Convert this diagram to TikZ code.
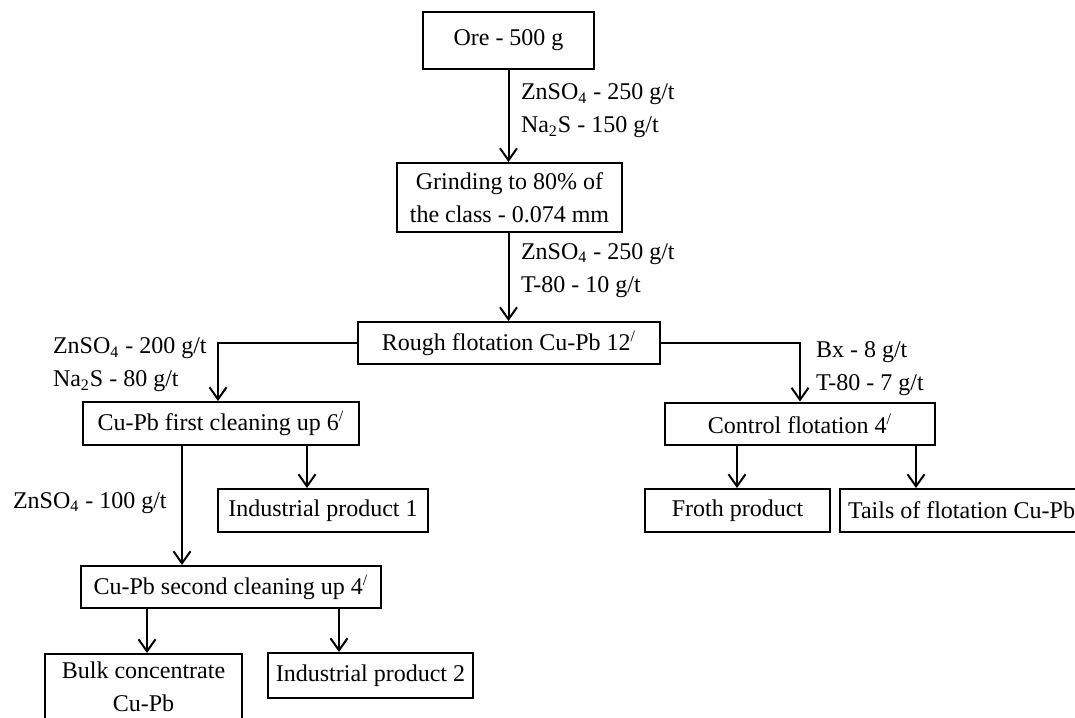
\documentclass[tikz,border=0pt]{standalone}
\usepackage{fontspec}
\setmainfont{Liberation Serif}
\usetikzlibrary{arrows.meta,positioning}
\tikzset{
  basic/.style   = {draw, line width=1pt, rectangle, inner sep=2pt,
                    font=\fontsize{12}{16.5}\selectfont},
  stage/.style   = {basic, align=center},
  product/.style = {basic, align=center},
  dose/.style    = {inner sep=0pt, align=left, anchor=west,
                    font=\fontsize{12}{16.5}\selectfont}
}

\begin{document}
\begin{tikzpicture}[x=0.5pt, y=-0.5pt,
  >={Straight Barb[length=6pt,width=8.5pt]},
  line width=1pt]

\useasboundingbox (0,0) rectangle (1075,717);
\clip (0,0) rectangle (1075,717);

% main line of the scheme
\node[stage, minimum width=85.5pt, minimum height=28.5pt] (ore) at (508.5,40.5) {Ore - 500 g};
\node[stage, minimum width=112.5pt, minimum height=34.5pt] (grind) at (509.5,197.5)
  {Grinding to 80\% of\\the class - 0.074 mm};
\node[stage, minimum width=151pt, minimum height=21pt] (rough) at (509,343)
  {Rough flotation Cu-Pb 12\textsuperscript{/}};

% cleaning and control stages
\node[stage, minimum width=138pt, minimum height=21.5pt] (clean1) at (221,423.5)
  {Cu-Pb first cleaning up 6\textsuperscript{/}};
\node[stage, minimum width=135pt, minimum height=21pt] (control) at (800,423.5)
  {Control flotation 4\textsuperscript{/}};
\node[stage, minimum width=150pt, minimum height=21pt] (clean2) at (231,587)
  {Cu-Pb second cleaning up 4\textsuperscript{/}};

% products
\begin{scope}[every node/.style={product}]
\node[minimum width=105pt, minimum height=21.5pt] (ind1) at (323,510.5) {Industrial product 1};
\node[minimum width=92.5pt, minimum height=21.5pt] (froth) at (737.5,510.5) {Froth product};
\node[minimum height=21.5pt, anchor=west, inner sep=4pt] (tails) at (839,510.5)
  {Tails of flotation Cu-Pb};
\node[minimum width=98.5pt, minimum height=32.5pt] (bulk) at (143.5,686.5)
  {Bulk concentrate\\Cu-Pb};
\node[minimum width=102.5pt, minimum height=22.5pt] (ind2) at (370.5,675.5) {Industrial product 2};
\end{scope}

% reagents
\node[dose] (r1) at (520,111) {ZnSO\textsubscript{4} - 250 g/t\\Na\textsubscript{2}S - 150 g/t};
\node[dose] (r2) at (520,270.5) {ZnSO\textsubscript{4} - 250 g/t\\T-80 - 10 g/t};
\node[dose] (r3) at (52,365) {ZnSO\textsubscript{4} - 200 g/t\\Na\textsubscript{2}S - 80 g/t};
\node[dose] (r4) at (815,369) {Bx - 8 g/t\\T-80 - 7 g/t};
\node[dose] (r5) at (12,503) {ZnSO\textsubscript{4} - 100 g/t};

% flows
\draw[->] (ore.south) -- (ore.south |- grind.north);
\draw[->] (ore.south |- grind.south) -- (ore.south |- rough.north);
\draw[->] (rough.west) -| ([xshift=-1.5pt]clean1.north);
\draw[->] (rough.east) -| (control.north);

\foreach \src/\dst/\dx in {clean1/clean2/-19.5pt, clean1/ind1/43pt,
                           control/froth/-31.5pt, control/tails/58pt,
                           clean2/bulk/-42pt, clean2/ind2/54pt}
  \draw[->] ([xshift=\dx]\src.south) -- ([xshift=\dx]\src.south |- \dst.north);

\end{tikzpicture}
\end{document}
